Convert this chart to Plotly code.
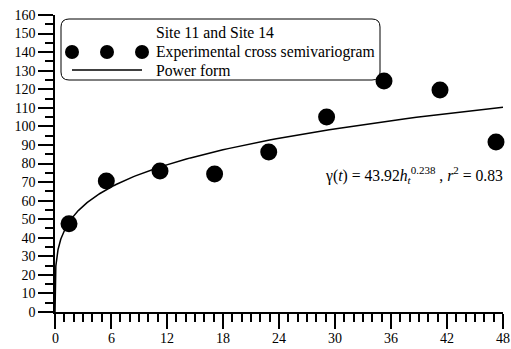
import numpy as np
import plotly.graph_objects as go

# Experimental cross semivariogram, Site 11 and Site 14
lag_h = [1.5, 5.5, 11.25, 17.1, 22.9, 29.1, 35.25, 41.25, 47.25]
gamma_exp = [47.5, 70.6, 76.0, 74.3, 86.2, 105.0, 124.4, 119.6, 91.6]

# Fitted power-form model: gamma(t) = a * h^b
coef_a = 43.92
coef_b = 0.238
r_squared = 0.83

x_ticks = [0, 6, 12, 18, 24, 30, 36, 42, 48]
y_ticks = list(range(0, 161, 10))

W, H = 511, 349
ML, MR, MT, MB = 55, 8, 15, 37
FONT = "Liberation Serif, Times New Roman, serif"

h_fit = np.concatenate([[0.0], np.geomspace(0.005, 48, 300)])
gamma_fit = coef_a * h_fit ** coef_b


def px(xp):
    return (xp - ML) / (W - ML - MR)


def py(yp):
    return (H - MB - yp) / (H - MT - MB)


fig = go.Figure()
fig.add_trace(go.Scatter(
    x=h_fit, y=gamma_fit, mode="lines",
    line=dict(color="black", width=1.5), showlegend=False, cliponaxis=False,
))
fig.add_trace(go.Scatter(
    x=lag_h, y=gamma_exp, mode="markers",
    marker=dict(color="black", size=17), showlegend=False, cliponaxis=False,
))

# Legend box with rounded corners
x0, x1, y0, y1, r = 61, 380, 19, 80, 8
path = (
    f"M {px(x0 + r)},{py(y0)} L {px(x1 - r)},{py(y0)} "
    f"Q {px(x1)},{py(y0)} {px(x1)},{py(y0 + r)} "
    f"L {px(x1)},{py(y1 - r)} Q {px(x1)},{py(y1)} {px(x1 - r)},{py(y1)} "
    f"L {px(x0 + r)},{py(y1)} Q {px(x0)},{py(y1)} {px(x0)},{py(y1 - r)} "
    f"L {px(x0)},{py(y0 + r)} Q {px(x0)},{py(y0)} {px(x0 + r)},{py(y0)} Z"
)
shapes = [dict(type="path", xref="paper", yref="paper", path=path,
               line=dict(color="black", width=1), fillcolor="white", layer="below")]
for cx in [72, 107, 142]:
    shapes.append(dict(type="circle", xref="paper", yref="paper",
                       xsizemode="pixel", ysizemode="pixel",
                       xanchor=px(cx), yanchor=py(52),
                       x0=-7, x1=7, y0=-7, y1=7,
                       fillcolor="black", line=dict(color="black", width=0)))
shapes.append(dict(type="line", xref="paper", yref="paper",
                   x0=px(72), x1=px(142), y0=py(70), y1=py(70),
                   line=dict(color="black", width=1.5)))

tfont = dict(family=FONT, size=15.7, color="black")
annotations = [
    dict(xref="paper", yref="paper", x=px(154), y=py(y), text=t, showarrow=False,
         xanchor="left", yanchor="middle", font=tfont)
    for t, y in [("Site 11 and Site 14", 33),
                 ("Experimental cross semivariogram", 52),
                 ("Power form", 70)]
]
annotations.append(dict(
    xref="paper", yref="paper", x=px(505), y=py(175), showarrow=False,
    xanchor="right", yanchor="middle", font=tfont,
    text=(f"γ(<i>t</i>) = {coef_a:.2f}<i>h<sub>t</sub></i>"
          f"<sup>{coef_b}</sup> , <i>r</i><sup>2</sup> = {r_squared:.2f}"),
))
# x tick labels, set a little further below the long major ticks
for v in x_ticks:
    annotations.append(dict(
        xref="x", yref="paper", x=v, y=0, yshift=-26, showarrow=False,
        xanchor="center", yanchor="middle", text=str(v),
        font=dict(family=FONT, size=14, color="black"),
    ))

axis_common = dict(
    showgrid=False, zeroline=False, showline=True, linecolor="black", linewidth=1.5,
    ticks="outside", ticklen=15, tickwidth=1.5, tickcolor="black",
    tickfont=dict(family=FONT, size=14, color="black"), automargin=False,
)
fig.update_xaxes(range=[0, 48], tickvals=x_ticks, showticklabels=False,
                 minor=dict(ticks="outside", dtick=1, ticklen=8, tickwidth=1.5,
                            tickcolor="black"),
                 **axis_common)
fig.update_yaxes(range=[0, 160], tickvals=y_ticks, ticktext=[str(v) for v in y_ticks],
                 minor=dict(ticks="outside", dtick=5, ticklen=8, tickwidth=1.5,
                            tickcolor="black"),
                 **axis_common)

fig.update_layout(
    width=W, height=H, margin=dict(l=ML, r=MR, t=MT, b=MB),
    plot_bgcolor="white", paper_bgcolor="white",
    font=dict(family=FONT, color="black"),
    shapes=shapes, annotations=annotations, showlegend=False,
)
fig.write_html("out.html")
